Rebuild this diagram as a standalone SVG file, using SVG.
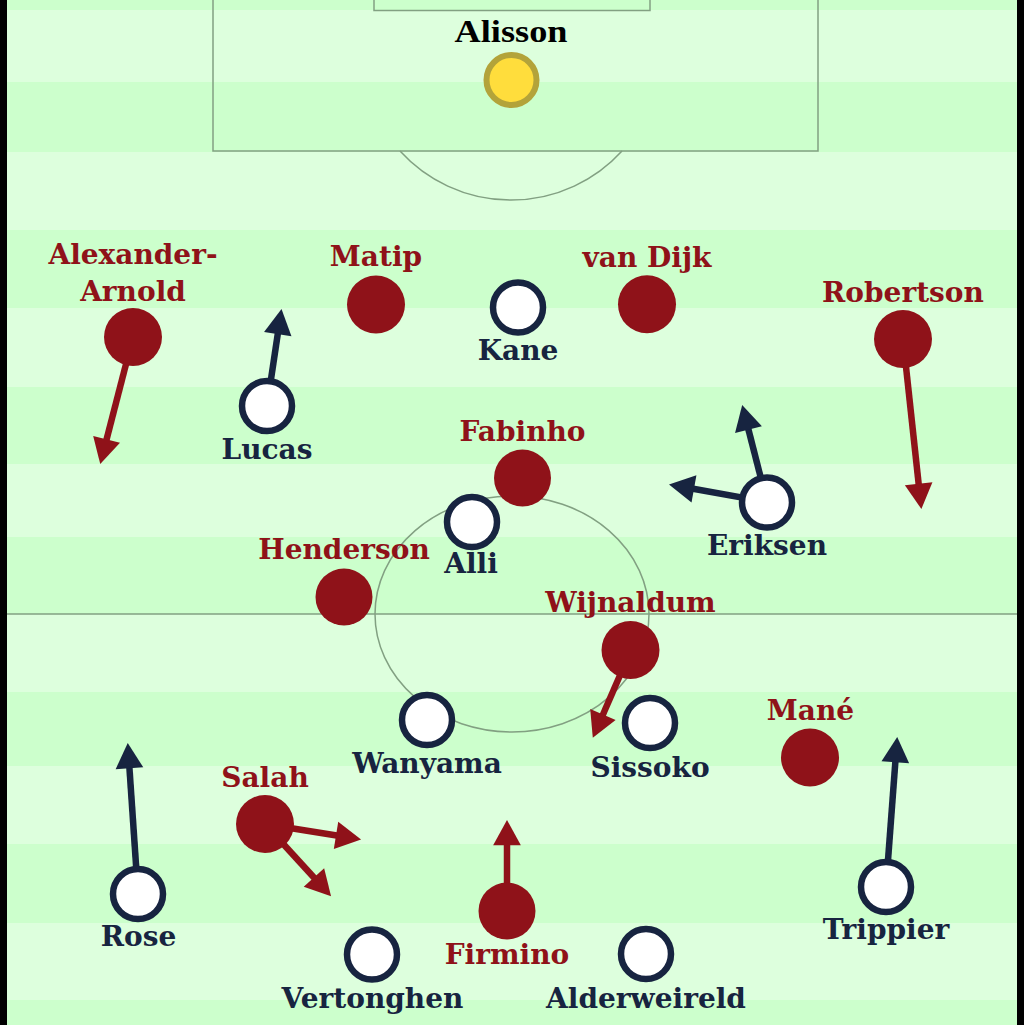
<svg xmlns="http://www.w3.org/2000/svg" width="1024" height="1025" viewBox="0 0 1024 1025">
<defs>
<style>
.dk{fill:#ccffcc}
.lt{fill:#ddffdd}
.ln{fill:none;stroke:#82a082;stroke-width:1.5}
.red{fill:#8f1219}
.spur{fill:#ffffff;stroke:#172440;stroke-width:6.5}
.lr{font-family:"DejaVu Serif",Georgia,serif;font-weight:bold;font-size:28px;fill:#8f1219;text-anchor:middle}
.ls{font-family:"DejaVu Serif",Georgia,serif;font-weight:bold;font-size:28px;fill:#172440;text-anchor:middle}
.ar{stroke:#8f1219;stroke-width:6.5;fill:none;marker-end:url(#hr)}
.as{stroke:#172440;stroke-width:6.5;fill:none;marker-end:url(#hs)}
</style>
<marker id="hr" markerUnits="userSpaceOnUse" markerWidth="30" markerHeight="30" viewBox="0 -13 24 26" refX="2" refY="0" orient="auto">
<path d="M0,-12 L22,0 L0,12 z" fill="#8f1219"/>
</marker>
<marker id="hs" markerUnits="userSpaceOnUse" markerWidth="30" markerHeight="30" viewBox="0 -13 24 26" refX="2" refY="0" orient="auto">
<path d="M0,-12 L22,0 L0,12 z" fill="#172440"/>
</marker>
</defs>
<g id="pitch">
<rect x="0" y="0" width="1024" height="1025" class="dk"/>
<rect x="0" y="10" width="1024" height="72" class="lt"/>
<rect x="0" y="152" width="1024" height="78" class="lt"/>
<rect x="0" y="308" width="1024" height="79" class="lt"/>
<rect x="0" y="464" width="1024" height="73" class="lt"/>
<rect x="0" y="614" width="1024" height="78" class="lt"/>
<rect x="0" y="766" width="1024" height="78" class="lt"/>
<rect x="0" y="923" width="1024" height="77" class="lt"/>
<rect x="213" y="-2" width="605" height="153" class="ln"/>
<rect x="374" y="-2" width="276" height="12.5" class="ln"/>
<path d="M400,151 A150,150 0 0 0 622,151" class="ln"/>
<line x1="7" y1="614" x2="1017" y2="614" class="ln"/>
<ellipse cx="512" cy="614" rx="137" ry="118" class="ln"/>
<rect x="0" y="0" width="7" height="1025" fill="#000"/>
<rect x="1017" y="0" width="7" height="1025" fill="#000"/>
</g>
<g id="connectors">
<line x1="133" y1="337" x2="106" y2="441.6" class="ar"/>
<line x1="903" y1="339" x2="918.9" y2="486.1" class="ar"/>
<line x1="631" y1="650" x2="602" y2="716.7" class="ar"/>
<line x1="265" y1="824" x2="338.3" y2="835.8" class="ar"/>
<line x1="265" y1="824" x2="315.5" y2="879.2" class="ar"/>
<line x1="507" y1="911" x2="507" y2="843" class="ar"/>
<line x1="267" y1="406" x2="278.1" y2="331.8" class="as"/>
<line x1="767" y1="502" x2="747.9" y2="427.4" class="as"/>
<line x1="767" y1="502" x2="691.7" y2="488.5" class="as"/>
<line x1="138" y1="894" x2="129.3" y2="766" class="as"/>
<line x1="886" y1="887" x2="895.5" y2="760" class="as"/>
</g>
<g id="alisson">
<circle cx="511.5" cy="80" r="25" fill="#ffdd3c" stroke="#b3a33a" stroke-width="6"/>
<text x="511" y="42" font-family="Liberation Serif,serif" font-weight="bold" font-size="31" fill="#000" text-anchor="middle" textLength="113" lengthAdjust="spacingAndGlyphs">Alisson</text>
</g>
<g id="alexander-arnold">
<circle cx="133" cy="337" r="29" class="red"/>
<text x="133" y="264" class="lr">Alexander-</text>
<text x="133" y="301" class="lr">Arnold</text>
</g>
<g id="matip"><circle cx="376" cy="304.5" r="29" class="red"/><text x="376" y="266" class="lr">Matip</text></g>
<g id="vandijk"><circle cx="647" cy="304.3" r="29" class="red"/><text x="647" y="267" class="lr">van Dijk</text></g>
<g id="robertson"><circle cx="903" cy="339" r="29" class="red"/><text x="903" y="302" class="lr">Robertson</text></g>
<g id="fabinho"><circle cx="522.5" cy="478" r="28.5" class="red"/><text x="522.5" y="441" class="lr">Fabinho</text></g>
<g id="henderson"><circle cx="344" cy="597" r="28.5" class="red"/><text x="344" y="559" class="lr">Henderson</text></g>
<g id="wijnaldum"><circle cx="630.5" cy="650" r="29" class="red"/><text x="630.5" y="612" class="lr">Wijnaldum</text></g>
<g id="mane"><circle cx="810" cy="757.5" r="29" class="red"/><text x="810.5" y="720" class="lr">Mané</text></g>
<g id="salah"><circle cx="265" cy="824" r="29" class="red"/><text x="265" y="787" class="lr">Salah</text></g>
<g id="firmino"><circle cx="507" cy="911" r="28.5" class="red"/><text x="507" y="964" class="lr">Firmino</text></g>
<g id="kane"><circle cx="518" cy="307.5" r="25" class="spur"/><text x="518" y="360" class="ls">Kane</text></g>
<g id="lucas"><circle cx="267" cy="406" r="25" class="spur"/><text x="267" y="459" class="ls">Lucas</text></g>
<g id="eriksen"><circle cx="767" cy="502.5" r="25" class="spur"/><text x="767" y="555" class="ls">Eriksen</text></g>
<g id="alli"><circle cx="472" cy="522" r="25" class="spur"/><text x="471" y="573" class="ls">Alli</text></g>
<g id="wanyama"><circle cx="427" cy="720" r="25" class="spur"/><text x="427" y="773" class="ls">Wanyama</text></g>
<g id="sissoko"><circle cx="650" cy="723" r="25" class="spur"/><text x="650" y="777" class="ls">Sissoko</text></g>
<g id="rose"><circle cx="138" cy="894" r="25" class="spur"/><text x="138.5" y="946" class="ls">Rose</text></g>
<g id="vertonghen"><circle cx="372" cy="954.5" r="25" class="spur"/><text x="372.5" y="1008" class="ls">Vertonghen</text></g>
<g id="alderweireld"><circle cx="646" cy="954" r="25" class="spur"/><text x="646" y="1008" class="ls">Alderweireld</text></g>
<g id="trippier"><circle cx="886" cy="887" r="25" class="spur"/><text x="886" y="939" class="ls">Trippier</text></g>
</svg>
